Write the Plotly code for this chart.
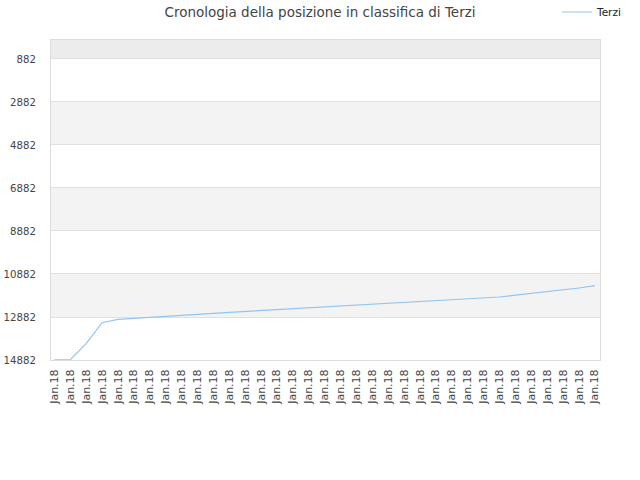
import plotly.graph_objects as go

# posizione in classifica, una lettura per etichetta
dates = ["Jan.18"] * 35
positions = [
    14870, 14870, 14119, 13150, 12990, 12938, 12891, 12840, 12794, 12752,
    12710, 12663, 12622, 12580, 12538, 12496, 12449, 12408, 12366, 12324,
    12282, 12240, 12194, 12152, 12110, 12068, 12031, 11989, 11952, 11868,
    11789, 11705, 11622, 11533, 11426,
]
y_ticks = [882, 2882, 4882, 6882, 8882, 10882, 12882, 14882]
bands = [(0, 882, "#ececec"), (2882, 4882, "#f3f3f3"),
         (6882, 8882, "#f3f3f3"), (10882, 12882, "#f3f3f3")]

idx = list(range(len(dates)))

fig = go.Figure()
fig.add_trace(go.Scatter(
    x=idx, y=positions, mode="lines", name="Terzi",
    line=dict(color="#92c5f2", width=1.2),
))

for y0, y1, col in bands:
    fig.add_shape(type="rect", xref="paper", yref="y", x0=0, x1=1, y0=y0, y1=y1,
                  fillcolor=col, line_width=0, layer="below")

fig.update_layout(
    width=640, height=480,
    margin=dict(l=51, r=40, t=40, b=120),
    paper_bgcolor="white", plot_bgcolor="white",
    font=dict(family="DejaVu Sans", size=11, color="#444"),
    title=dict(text="Cronologia della posizione in classifica di Terzi",
               x=0.5, xanchor="center", xref="container",
               y=1 - 12 / 480, yanchor="middle", yref="container",
               font=dict(size=13.5, color="#444")),
    showlegend=True,
    # orizzontale + container: riserva solo il margine in alto (già 40px)
    legend=dict(orientation="h", x=557 / 640, y=1 - 12 / 480,
                xref="container", yref="container",
                xanchor="left", yanchor="middle",
                bgcolor="rgba(0,0,0,0)", itemwidth=30,
                font=dict(size=10.5, color="#222")),
    xaxis=dict(range=[-0.21, 34.32], tickmode="array", tickvals=idx, ticktext=dates,
               tickangle=-90, showgrid=False, zeroline=False, automargin=False,
               showline=True, linecolor="#ddd", mirror=True, ticks="",
               ticklabelstandoff=4),
    yaxis=dict(range=[14882, 0], tickmode="array", tickvals=y_ticks,
               ticktext=[str(v) for v in y_ticks], automargin=False,
               tickfont=dict(size=10.2),
               showgrid=True, gridcolor="#e0e0e0", zeroline=False,
               showline=True, linecolor="#ddd", mirror=True, ticks="",
               ticklen=0, ticklabelstandoff=12),
)

fig.write_html("out.html", config={"displayModeBar": False},
               post_script="document.body.style.margin='0';")
